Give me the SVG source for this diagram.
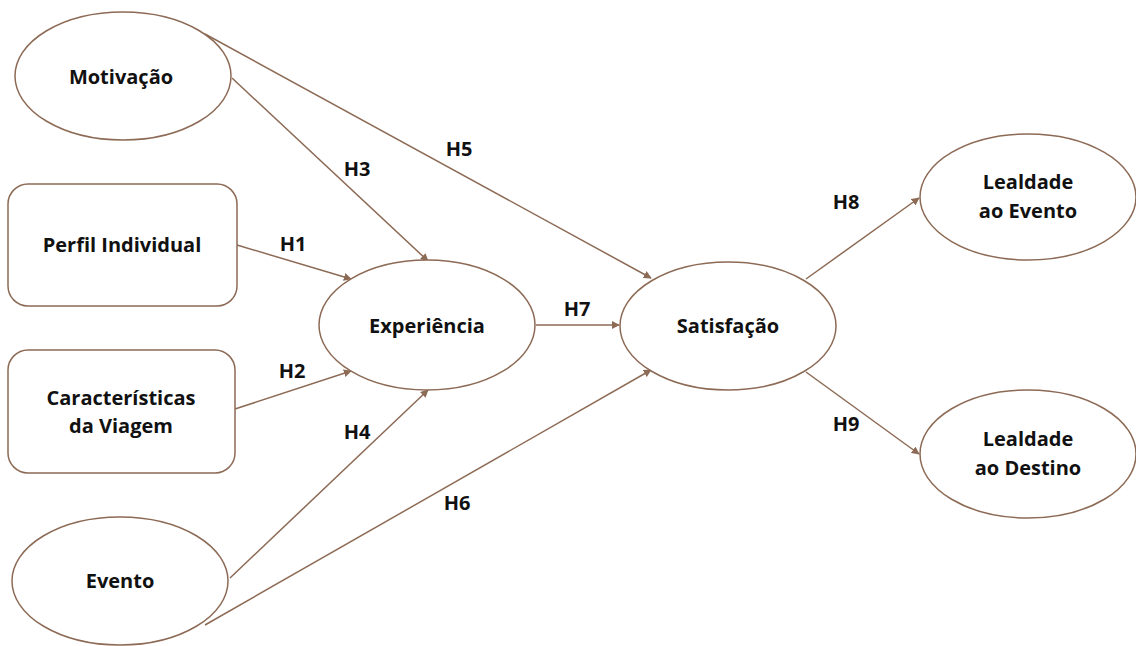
<svg xmlns="http://www.w3.org/2000/svg" width="1136" height="646" viewBox="0 0 1136 646">
  <defs>
    <marker id="arrow" viewBox="0 0 10 10" refX="9" refY="5" markerWidth="8" markerHeight="8" markerUnits="userSpaceOnUse" orient="auto">
      <path d="M0,0 L10,5 L0,10 z" fill="#8c6a55"/>
    </marker>
  </defs>
  <style>
    .shape { fill: #ffffff; stroke: #8c6a55; stroke-width: 1.5; }
    .edge { stroke: #8c6a55; stroke-width: 1.5; fill: none; marker-end: url(#arrow); }
    .label { font-family: "Open Sans", "Liberation Sans", sans-serif; font-weight: bold; font-size: 20px; fill: #111111; text-anchor: middle; }
  </style>
  <rect width="1136" height="646" fill="#ffffff"/>

  <g id="connectors">
    <line class="edge" x1="205" y1="34" x2="651" y2="278"/>
    <line class="edge" x1="232" y1="78" x2="428" y2="261"/>
    <line class="edge" x1="237" y1="245" x2="351" y2="279"/>
    <line class="edge" x1="235" y1="409" x2="351" y2="371"/>
    <line class="edge" x1="230" y1="578" x2="428" y2="390"/>
    <line class="edge" x1="205" y1="625" x2="651" y2="370"/>
    <line class="edge" x1="536" y1="325" x2="619" y2="325"/>
    <line class="edge" x1="806" y1="279" x2="919" y2="198"/>
    <line class="edge" x1="806" y1="372" x2="919" y2="454"/>
    <text class="label" x="357" y="176">H3</text>
    <text class="label" x="459" y="156">H5</text>
    <text class="label" x="293" y="251">H1</text>
    <text class="label" x="292" y="378">H2</text>
    <text class="label" x="357" y="439">H4</text>
    <text class="label" x="457" y="510">H6</text>
    <text class="label" x="577" y="316">H7</text>
    <text class="label" x="846" y="209">H8</text>
    <text class="label" x="846" y="431">H9</text>
  </g>

  <g id="motivacao">
    <ellipse class="shape" cx="123" cy="76" rx="108" ry="64"/>
    <text class="label" x="121" y="84">Motivação</text>
  </g>
  <g id="perfil-individual">
    <rect class="shape" x="8" y="184" width="229" height="122" rx="20"/>
    <text class="label" x="122" y="252">Perfil Individual</text>
  </g>
  <g id="caracteristicas-viagem">
    <rect class="shape" x="8" y="350" width="227" height="123" rx="20"/>
    <text class="label" x="121" y="405">Características</text>
    <text class="label" x="121" y="433">da Viagem</text>
  </g>
  <g id="evento">
    <ellipse class="shape" cx="120" cy="581" rx="108" ry="64"/>
    <text class="label" x="120" y="588">Evento</text>
  </g>
  <g id="experiencia">
    <ellipse class="shape" cx="427" cy="325" rx="108" ry="65"/>
    <text class="label" x="427" y="333">Experiência</text>
  </g>
  <g id="satisfacao">
    <ellipse class="shape" cx="728" cy="326" rx="108" ry="64"/>
    <text class="label" x="728" y="333">Satisfação</text>
  </g>
  <g id="lealdade-evento">
    <ellipse class="shape" cx="1028" cy="197" rx="108" ry="63"/>
    <text class="label" x="1028" y="189">Lealdade</text>
    <text class="label" x="1028" y="218">ao Evento</text>
  </g>
  <g id="lealdade-destino">
    <ellipse class="shape" cx="1028" cy="454" rx="108" ry="64"/>
    <text class="label" x="1028" y="446">Lealdade</text>
    <text class="label" x="1028" y="475">ao Destino</text>
  </g>
</svg>
